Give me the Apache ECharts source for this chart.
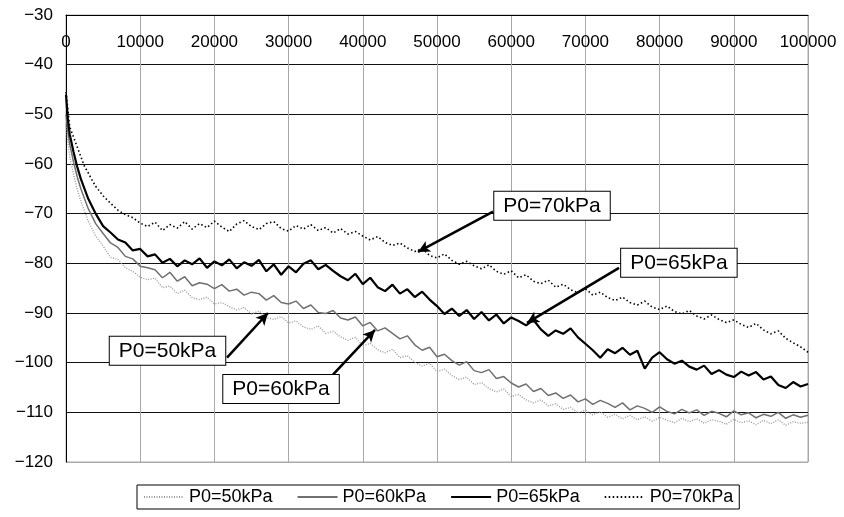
<!DOCTYPE html>
<html>
<head>
<meta charset="utf-8">
<script src="https://cdn.jsdelivr.net/npm/echarts@6/dist/echarts.min.js"></script>
<style>
  html, body { margin: 0; padding: 0; background: #fff; }
  #chart { width: 844px; height: 517px; }
</style>
</head>
<body>
<div id="chart"></div>
<script>
// sample positions (shared by all four series)
const xs = [0, 250, 500, 1000, 1500, 2000, 2500, 3000, 3500, 4000,
  5000, 6000, 7000, 8000, 9000, 10000, 11000, 12000, 13000, 14000,
  15000, 16000, 17000, 18000, 19000, 20000, 21000, 22000, 23000, 24000,
  25000, 26000, 27000, 28000, 29000, 30000, 31000, 32000, 33000, 34000,
  35000, 36000, 37000, 38000, 39000, 40000, 41000, 42000, 43000, 44000,
  45000, 46000, 47000, 48000, 49000, 50000, 51000, 52000, 53000, 54000,
  55000, 56000, 57000, 58000, 59000, 60000, 61000, 62000, 63000, 64000,
  65000, 66000, 67000, 68000, 69000, 70000, 71000, 72000, 73000, 74000,
  75000, 76000, 77000, 78000, 79000, 80000, 81000, 82000, 83000, 84000,
  85000, 86000, 87000, 88000, 89000, 90000, 91000, 92000, 93000, 94000,
  95000, 96000, 97000, 98000, 99000, 100000];

const p50 = [-52, -55.5, -58.5, -62, -65, -67.5, -69.5, -71.5, -73, -74.5,
  -76.5, -78.8, -79.2, -80.9, -81.6, -82.8, -83.3, -83.0, -84.9, -84.6,
  -86.1, -85.4, -86.9, -87.3, -86.8, -88.2, -87.9, -88.7, -89.4, -88.9,
  -90.2, -89.6, -90.9, -91.3, -90.7, -92.0, -91.6, -92.8, -93.3, -92.6,
  -94.1, -93.7, -94.8, -95.5, -94.9, -96.6, -96.1, -97.4, -98.0, -97.3,
  -99.0, -98.6, -99.9, -100.7, -100.1, -101.8, -101.3, -102.6, -103.4, -102.9,
  -104.4, -104.0, -105.2, -105.9, -105.3, -106.8, -106.4, -107.5, -108.1, -107.5,
  -108.7, -108.3, -109.4, -109.0, -110.1, -109.6, -110.5, -109.9, -111.0, -110.4,
  -111.3, -110.6, -111.5, -110.9, -111.8, -111.0, -111.6, -112.1, -111.2, -111.9,
  -111.3, -112.2, -111.5, -111.8, -112.4, -111.4, -112.1, -111.7, -112.5, -111.6,
  -112.3, -111.5, -112.6, -111.9, -112.2, -112.0];

const p60 = [-50, -53.5, -56, -59.5, -62.5, -65, -67, -69, -70.5, -72,
  -74.0, -75.9, -76.8, -78.6, -79.1, -80.6, -80.9, -81.3, -82.9, -81.8,
  -83.6, -82.7, -84.5, -83.9, -84.2, -85.1, -84.3, -85.6, -85.2, -86.4,
  -85.8, -86.1, -87.4, -86.5, -87.9, -88.2, -87.6, -89.1, -88.4, -89.9,
  -90.1, -89.5, -91.0, -91.4, -90.8, -92.6, -91.9, -93.6, -93.0, -94.1,
  -95.2, -94.6, -96.4, -97.5, -96.9, -98.8, -98.3, -99.6, -100.5, -99.8,
  -101.6, -102.0, -101.4, -103.2, -102.8, -104.1, -104.9, -104.3, -105.8, -105.2,
  -106.6, -106.1, -107.2, -106.5, -107.9, -107.3, -108.4, -107.6, -108.2, -109.0,
  -108.1, -109.5, -108.7, -109.2, -110.0, -108.9, -109.8, -110.3, -109.4, -110.1,
  -109.5, -110.6, -109.8, -110.2, -110.9, -109.7, -110.5, -110.1, -111.1, -110.4,
  -110.8, -110.0, -111.2, -110.5, -111.0, -110.6];

const p65 = [-46, -51, -54, -57.5, -60.5, -63, -65, -67, -68.5, -70,
  -72.5, -73.8, -75.2, -75.8, -77.4, -77.1, -78.6, -78.2, -79.9, -79.1,
  -80.6, -79.4, -80.2, -79.0, -80.9, -79.6, -80.4, -79.2, -81.0, -79.8,
  -80.5, -79.3, -81.6, -80.2, -82.3, -80.6, -81.8, -80.1, -79.4, -81.2,
  -80.3, -81.5, -82.6, -83.4, -82.1, -84.2, -82.9, -84.8, -85.6, -84.3,
  -86.1, -85.2, -86.8, -85.7, -87.3, -88.6, -90.2, -89.1, -90.6, -89.4,
  -91.2, -89.8, -91.5, -90.3, -92.1, -90.9, -91.6, -92.5, -91.4, -93.3,
  -94.6, -93.5, -94.2, -93.1, -94.9, -96.2, -97.5, -99.0, -97.3, -98.1,
  -97.0, -98.4, -97.6, -101.2, -99.0, -97.9, -99.3, -100.2, -99.6, -100.8,
  -101.4, -100.6, -102.3, -101.5, -102.4, -102.9, -101.8, -102.6, -101.9, -103.4,
  -102.8, -104.5, -105.1, -103.9, -104.8, -104.3];

const p70 = [-45.5, -49, -52.5, -54.5, -56.5, -58.5, -60.5, -61.8, -63.2, -64.5,
  -66.4, -67.9, -69.3, -70.2, -70.8, -71.9, -72.6, -71.7, -73.4, -72.2,
  -72.9, -71.6, -73.1, -72.0, -72.8, -71.5, -72.7, -73.6, -72.1, -71.4,
  -72.6, -73.2, -72.0, -71.6, -73.0, -73.5, -72.4, -73.1, -72.2, -73.4,
  -72.8, -73.9, -73.0, -74.1, -73.6, -74.5, -75.3, -74.6, -75.8, -76.4,
  -75.9, -76.9, -77.6, -77.0, -78.4, -78.9, -78.1, -79.4, -80.2, -79.6,
  -80.5, -81.1, -80.3, -81.6, -82.2, -81.5, -82.9, -82.3, -83.6, -84.1,
  -83.4, -84.8, -84.2, -85.3, -85.9, -85.1, -86.4, -85.8, -86.9, -87.5,
  -86.8, -87.9, -88.4, -87.6, -88.8, -89.3, -88.6, -89.7, -90.2, -89.5,
  -90.6, -91.2, -90.4, -91.3, -91.9, -91.4, -92.3, -92.9, -92.1, -93.4,
  -94.2, -93.6, -95.1, -96.0, -96.8, -97.9];

const seriesNames = ["P0=50kPa", "P0=60kPa", "P0=65kPa", "P0=70kPa"];

// callout boxes: [text, centre x, centre y] and arrows [from, to] in data units
const callouts = [
  ["P0=70kPa", 65500, -68.4],
  ["P0=65kPa", 82600, -79.9],
  ["P0=50kPa", 13680, -97.6],
  ["P0=60kPa", 28980, -105.3]
];
const arrows = [
  [[57550, -69.6], [47440, -77.7]],
  [[74530, -80.9], [62130, -92.0]],
  [[21700, -99.0], [27220, -90.0]],
  [[35980, -102.4], [41640, -93.4]]
];

const FONT = "'Liberation Sans', Arial, sans-serif";
const pairs = (ys) => xs.map((x, i) => [x, ys[i]]);
const minus = (v) => String(v).replace("-", "\u2212");

const chart = echarts.init(document.getElementById("chart"));

chart.setOption({
  backgroundColor: "#fff",
  animation: false,
  grid: {
    left: 66, right: 36, top: 15, bottom: 55,
    show: true, borderColor: "#aaa", borderWidth: 1
  },
  legend: {
    left: 137, top: 485,
    data: seriesNames,
    itemWidth: 40, itemHeight: 6, itemGap: 24,
    padding: [3, 6],
    borderColor: "#000", borderWidth: 1,
    itemStyle: { opacity: 0 },
    textStyle: { fontFamily: FONT, fontSize: 18, color: "#000" }
  },
  xAxis: {
    type: "value",
    position: "top",
    min: 0, max: 100000, interval: 10000,
    axisLine: { show: true, lineStyle: { color: "#000", width: 1 } },
    axisTick: { show: false },
    axisLabel: {
      inside: true, margin: 19,
      showMinLabel: true, showMaxLabel: true,
      formatter: (v) => String(v),
      fontFamily: FONT, fontSize: 17, color: "#000"
    },
    splitLine: { show: true, lineStyle: { color: "#a8a8a8", width: 1 } }
  },
  yAxis: {
    type: "value",
    min: -120, max: -30, interval: 10,
    axisLine: { show: true, lineStyle: { color: "#000", width: 1 } },
    axisTick: { show: false },
    axisLabel: {
      margin: 13, formatter: minus,
      fontFamily: FONT, fontSize: 17, color: "#000"
    },
    splitLine: {
      show: true,
      lineStyle: {
        color: ["#aaa", "#111", "#111", "#111", "#111", "#111", "#111", "#111", "#111", "#111"],
        width: 1
      }
    }
  },
  series: [
    {
      name: seriesNames[0], type: "line", data: pairs(p50),
      symbol: "none", z: 2,
      itemStyle: { color: "#9a9a9a" },
      lineStyle: { color: "#9a9a9a", width: 1.4, type: [1, 1.5] }
    },
    {
      name: seriesNames[1], type: "line", data: pairs(p60),
      symbol: "none", z: 3,
      itemStyle: { color: "#707070" },
      lineStyle: { color: "#707070", width: 1.5 }
    },
    {
      name: seriesNames[2], type: "line", data: pairs(p65),
      symbol: "none", z: 4,
      itemStyle: { color: "#000" },
      lineStyle: { color: "#000", width: 2.2 },
      markLine: {
        silent: true,
        symbol: ["none", "arrow"],
        symbolSize: [9, 12],
        label: { show: false },
        lineStyle: { color: "#000", width: 2.5, type: "solid" },
        data: arrows.map(([a, b]) => [{ coord: a }, { coord: b }])
      }
    },
    {
      name: seriesNames[3], type: "line", data: pairs(p70),
      symbol: "none", z: 5,
      itemStyle: { color: "#000" },
      lineStyle: { color: "#000", width: 1.6, type: [1.5, 2.5] },
      markPoint: {
        silent: true,
        symbol: "rect", symbolSize: 0,
        label: {
          show: true, position: "inside",
          formatter: (p) => p.name,
          fontFamily: FONT, fontSize: 21, color: "#000",
          backgroundColor: "#fff", borderColor: "#000", borderWidth: 1,
          padding: [4, 9, 3, 9]
        },
        data: callouts.map(([t, x, y]) => ({ name: t, coord: [x, y] }))
      }
    }
  ]
});
</script>
</body>
</html>
